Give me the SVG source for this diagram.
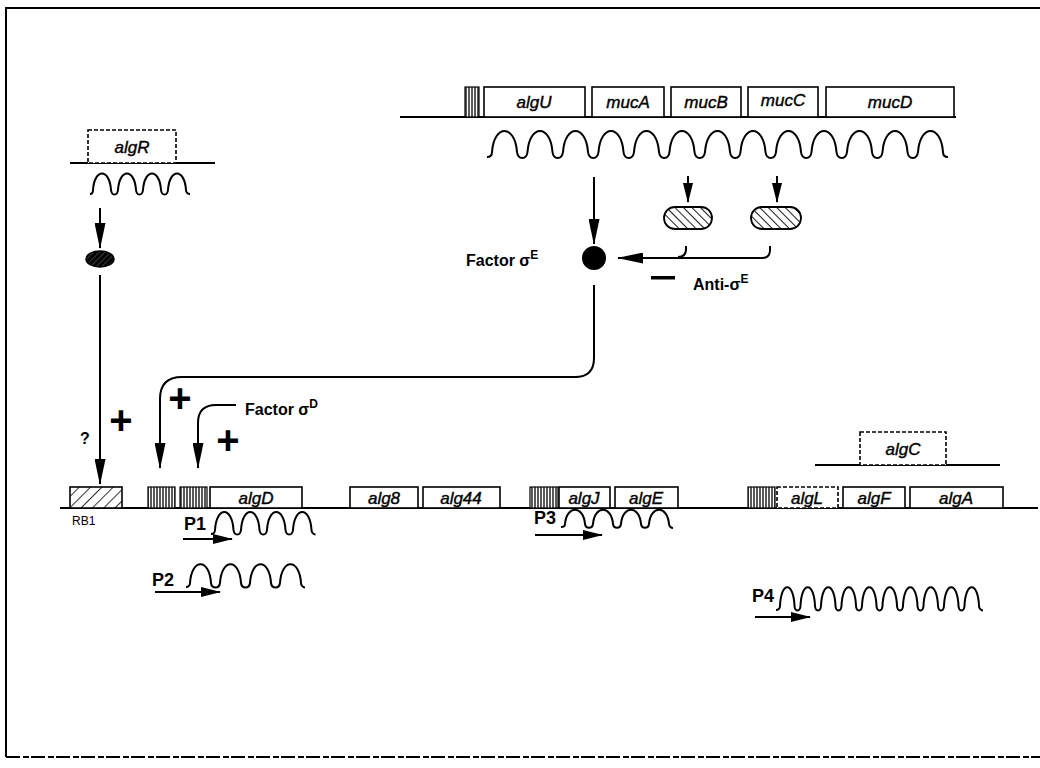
<svg xmlns="http://www.w3.org/2000/svg" width="1040" height="768" viewBox="0 0 1040 768">
<defs>
<style>
.gene{fill:#fff;stroke:#000;stroke-width:1.6}
.dash{fill:#fff;stroke:#000;stroke-width:1.6;stroke-dasharray:4 2}
.gt{font-family:"Liberation Sans",Arial,sans-serif;font-style:italic;font-size:17px;fill:#000;stroke:#000;stroke-width:0.4;text-anchor:middle}
.lb{font-family:"Liberation Sans",Arial,sans-serif;font-size:16px;fill:#000;font-weight:bold}
.pl{font-family:"Liberation Sans",Arial,sans-serif;font-size:18px;fill:#000;font-weight:bold}
.plus{font-family:"Liberation Sans",Arial,sans-serif;font-size:40px;fill:#000;font-weight:bold;text-anchor:middle}
.line{fill:none;stroke:#000;stroke-width:2}
.wave{fill:none;stroke:#000;stroke-width:2}
.conn{fill:none;stroke:#000;stroke-width:2}
</style>
<pattern id="vstripe" width="3" height="10" patternUnits="userSpaceOnUse">
<rect width="3" height="10" fill="#fff"/>
<line x1="1" y1="0" x2="1" y2="10" stroke="#000" stroke-width="1.3"/>
</pattern>
<pattern id="diag" width="6" height="6" patternUnits="userSpaceOnUse" patternTransform="rotate(-45)">
<rect width="6" height="6" fill="#fff"/>
<line x1="0" y1="0" x2="0" y2="6" stroke="#000" stroke-width="1.8"/>
</pattern>
<pattern id="diagR" width="8" height="8" patternUnits="userSpaceOnUse" patternTransform="rotate(45)">
<rect width="8" height="8" fill="#fff"/>
<line x1="0" y1="0" x2="0" y2="8" stroke="#000" stroke-width="1.6"/>
</pattern>
<pattern id="diagDark" width="4" height="4" patternUnits="userSpaceOnUse" patternTransform="rotate(45)">
<rect width="4" height="4" fill="#000"/>
<line x1="0" y1="0" x2="0" y2="4" stroke="#777" stroke-width="1"/>
</pattern>
<marker id="ah" markerUnits="userSpaceOnUse" viewBox="0 0 26 11" markerWidth="26" markerHeight="11" refX="25" refY="5.5" orient="auto">
<path d="M0,0 L26,5.5 L0,11 z" fill="#000"/>
</marker>
<marker id="ahs" markerUnits="userSpaceOnUse" viewBox="0 0 20 10" markerWidth="20" markerHeight="10" refX="19" refY="5" orient="auto">
<path d="M0,0 L20,5 L0,10 z" fill="#000"/>
</marker>
</defs>
<rect width="1040" height="768" fill="#fff"/>
<g id="frame">
<path d="M6,757 V8 H1040" class="line"/>
<line x1="6" y1="757" x2="1040" y2="757" stroke="#000" stroke-width="2" stroke-dasharray="14 3 6 2"/>
</g>

<g id="operon-algU">
<line x1="400" y1="117" x2="956" y2="117" class="line"/>
<rect x="465" y="87" width="14" height="30" fill="url(#vstripe)" stroke="#000" stroke-width="1.2"/>
<rect x="484" y="87" width="101" height="30" class="gene"/>
<text x="534" y="108" class="gt">algU</text>
<rect x="592" y="87" width="72" height="30" class="gene"/>
<text x="628" y="108" class="gt">mucA</text>
<rect x="671" y="87" width="70" height="30" class="gene"/>
<text x="706" y="108" class="gt">mucB</text>
<rect x="748" y="87" width="70" height="30" class="gene"/>
<text x="783" y="106" class="gt">mucC</text>
<rect x="826" y="87" width="128" height="30" class="gene"/>
<text x="890" y="108" class="gt">mucD</text>
<path class="wave" d="M487,157 c3,0 5,-2 5,-5 c2,-28 23,-28 25,0 c1,8 9.5,8 10.5,0 c2,-28 23,-28 25,0 c1,8 9.5,8 10.5,0 c2,-28 23,-28 25,0 c1,8 9.5,8 10.5,0 c2,-28 23,-28 25,0 c1,8 9.5,8 10.5,0 c2,-28 23,-28 25,0 c1,8 9.5,8 10.5,0 c2,-28 23,-28 25,0 c1,8 9.5,8 10.5,0 c2,-28 23,-28 25,0 c1,8 9.5,8 10.5,0 c2,-28 23,-28 25,0 c1,8 9.5,8 10.5,0 c2,-28 23,-28 25,0 c1,8 9.5,8 10.5,0 c2,-28 23,-28 25,0 c1,8 9.5,8 10.5,0 c2,-28 23,-28 25,0 c1,8 9.5,8 10.5,0 c2,-28 23,-28 25,0 c1,8 9.5,8 10.5,0 c2,-28 23,-28 25,0 c0,3 2,5 5,5"/>
</g>

<g id="algR">
<line x1="70" y1="163" x2="215" y2="163" class="line"/>
<rect x="88" y="130" width="88" height="33" class="dash"/>
<text x="132" y="153" class="gt">algR</text>
<path class="wave" d="M90,194 c2,0 3,-1.5 3,-4 c1.5,-22 16.5,-22 18,0 c0.7,6 6.3,6 7,0 c1.5,-22 16.5,-22 18,0 c0.7,6 6.3,6 7,0 c1.5,-22 16.5,-22 18,0 c0.7,6 6.3,6 7,0 c1.5,-22 16.5,-22 18,0 c0,2.5 2,4 4,4"/>
</g>
<g id="algR-protein">
<ellipse cx="100" cy="259" rx="14" ry="8" fill="url(#diagDark)" stroke="#000" stroke-width="1.5"/>
</g>

<g id="sigmaE">
<circle cx="594" cy="258" r="12" fill="#000"/>
<text x="466" y="266" class="lb">Factor σ<tspan dy="-7" font-size="12">E</tspan></text>
</g>
<g id="mucA-protein">
<rect x="664" y="207" width="48" height="22" rx="11" fill="url(#diag)" stroke="#000" stroke-width="1.8"/>
</g>
<g id="mucB-protein">
<rect x="751" y="207" width="50" height="22" rx="11" fill="url(#diag)" stroke="#000" stroke-width="1.8"/>
</g>
<g id="anti-label">
<rect x="651" y="276" width="24" height="3.5" fill="#000"/>
<text x="693" y="290" class="lb">Anti-σ<tspan dy="-7" font-size="12">E</tspan></text>
</g>

<g id="algC">
<line x1="815" y1="465" x2="1000" y2="465" class="line"/>
<rect x="860" y="432" width="86" height="33" class="dash"/>
<text x="903" y="455" class="gt">algC</text>
</g>

<g id="operon-algD">
<line x1="60" y1="508" x2="1038" y2="508" class="line"/>
<rect x="148" y="487" width="27" height="21" fill="url(#vstripe)" stroke="#000" stroke-width="1.2"/>
<rect x="180" y="487" width="27" height="21" fill="url(#vstripe)" stroke="#000" stroke-width="1.2"/>
<rect x="210" y="487" width="92" height="21" class="gene"/>
<text x="256" y="504" class="gt">algD</text>
<rect x="350" y="487" width="68" height="21" class="gene"/>
<text x="384" y="504" class="gt">alg8</text>
<rect x="423" y="487" width="77" height="21" class="gene"/>
<text x="461" y="504" class="gt">alg44</text>
<rect x="530" y="487" width="28" height="21" fill="url(#vstripe)" stroke="#000" stroke-width="1.2"/>
<rect x="559" y="487" width="51" height="21" class="gene"/>
<text x="584" y="504" class="gt">algJ</text>
<rect x="615" y="487" width="63" height="21" class="gene"/>
<text x="646" y="504" class="gt">algE</text>
<rect x="748" y="487" width="27" height="21" fill="url(#vstripe)" stroke="#000" stroke-width="1.2"/>
<rect x="777" y="487" width="61" height="21" class="dash"/>
<text x="807" y="504" class="gt">algL</text>
<rect x="843" y="487" width="62" height="21" class="gene"/>
<text x="874" y="504" class="gt">algF</text>
<rect x="910" y="487" width="93" height="21" class="gene"/>
<text x="956" y="504" class="gt">algA</text>
</g>
<g id="RB1">
<rect x="70" y="487" width="52" height="21" fill="url(#diagR)" stroke="#000" stroke-width="1.6"/>
<text x="72" y="525" font-family="Liberation Sans, Arial, sans-serif" font-size="12" fill="#000">RB1</text>
</g>

<g id="P1">
<text x="184" y="530" class="pl">P1</text>
<path class="wave" d="M211,534 c2,0 4,-1.5 4,-4 c1.5,-24 17,-24 18.5,0 c0.7,6 6.8,6 7.5,0 c1.5,-24 17,-24 18.5,0 c0.7,6 6.8,6 7.5,0 c1.5,-24 17,-24 18.5,0 c0.7,6 6.8,6 7.5,0 c1.5,-24 17,-24 18.5,0 c0,2.5 2,4.5 4,4.5"/>
<line x1="183" y1="539" x2="232" y2="539" class="conn" marker-end="url(#ahs)"/>
</g>
<g id="P2">
<text x="152" y="586" class="pl">P2</text>
<path class="wave" d="M186,587 c2,0 4,-1.5 4,-4 c1.5,-25 19.5,-25 21,0 c0.8,6 8.2,6 9,0 c1.5,-25 19.5,-25 21,0 c0.8,6 8.2,6 9,0 c1.5,-25 19.5,-25 21,0 c0.8,6 8.2,6 9,0 c1.5,-25 19.5,-25 21,0 c0,2.5 2,4.5 4,4.5"/>
<line x1="155" y1="592" x2="220" y2="592" class="conn" marker-end="url(#ahs)"/>
</g>
<g id="P3">
<text x="534" y="524" class="pl">P3</text>
<path class="wave" d="M561,527 c2,0 4,-1 4,-3 c1.5,-19 18.5,-19 20,0 c0.7,5 7.3,5 8,0 c1.5,-19 18.5,-19 20,0 c0.7,5 7.3,5 8,0 c1.5,-19 18.5,-19 20,0 c0.7,5 7.3,5 8,0 c1.5,-19 18.5,-19 20,0 c0,2 2,4 4,4"/>
<line x1="535" y1="535" x2="602" y2="535" class="conn" marker-end="url(#ahs)"/>
</g>
<g id="P4">
<text x="752" y="602" class="pl">P4</text>
<path class="wave" d="M776,610 c2,0 4,-1.5 4,-4 c1,-25 13.5,-25 14.5,0 c0.5,6 5.5,6 6,0 c1,-25 13.5,-25 14.5,0 c0.5,6 5.5,6 6,0 c1,-25 13.5,-25 14.5,0 c0.5,6 5.5,6 6,0 c1,-25 13.5,-25 14.5,0 c0.5,6 5.5,6 6,0 c1,-25 13.5,-25 14.5,0 c0.5,6 5.5,6 6,0 c1,-25 13.5,-25 14.5,0 c0.5,6 5.5,6 6,0 c1,-25 13.5,-25 14.5,0 c0.5,6 5.5,6 6,0 c1,-25 13.5,-25 14.5,0 c0.5,6 5.5,6 6,0 c1,-25 13.5,-25 14.5,0 c0.5,6 5.5,6 6,0 c1,-25 13.5,-25 14.5,0 c0,2.5 2,4.5 4,4.5"/>
<line x1="755" y1="617" x2="810" y2="617" class="conn" marker-end="url(#ahs)"/>
</g>

<g id="signs">
<text x="121" y="434" class="plus">+</text>
<text x="85" y="444" class="lb" text-anchor="middle">?</text>
<text x="180" y="412" class="plus">+</text>
<text x="228" y="454" class="plus">+</text>
<text x="245" y="415" class="lb">Factor σ<tspan dy="-7" font-size="12">D</tspan></text>
</g>

<g id="connectors">
<line x1="100" y1="208" x2="100" y2="248" class="conn" marker-end="url(#ah)"/>
<line x1="100" y1="275" x2="100" y2="484" class="conn" marker-end="url(#ah)"/>
<line x1="594" y1="177" x2="594" y2="244" class="conn" marker-end="url(#ah)"/>
<line x1="688" y1="176" x2="688" y2="202" class="conn" marker-end="url(#ahs)"/>
<line x1="777" y1="176" x2="777" y2="202" class="conn" marker-end="url(#ahs)"/>
<path class="conn" d="M686,246 v3 q0,8 -8,8"/>
<path class="conn" d="M770,246 v4 q0,8 -8,8 H618" marker-end="url(#ah)"/>
<path class="conn" d="M594,285 V358 Q594,377 575,377 H182 Q160,377 160,399 V468" marker-end="url(#ah)"/>
<path class="conn" d="M236,405 H216 Q198,405 198,423 V468" marker-end="url(#ah)"/>
</g>
</svg>
